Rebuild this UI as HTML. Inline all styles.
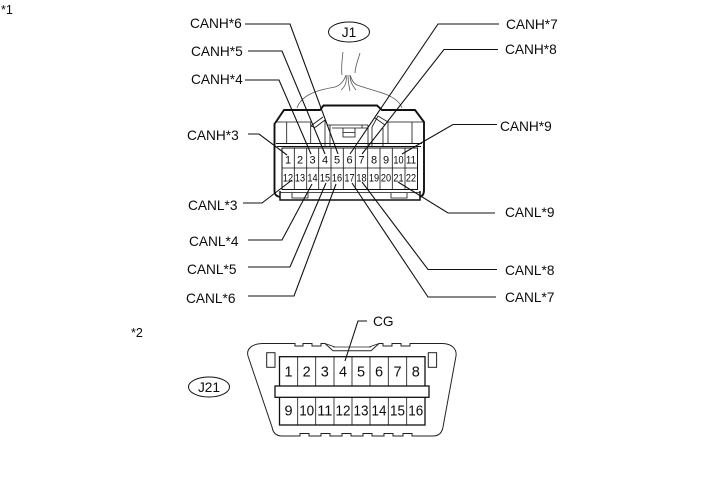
<!DOCTYPE html>
<html>
<head>
<meta charset="utf-8">
<style>
html,body{margin:0;padding:0;background:#fff;}
svg{display:block;}
text{font-family:"Liberation Sans",sans-serif;fill:#0c0c0c;}
.l{font-size:13.7px;}
.p{font-size:11px;text-anchor:middle;}
.q{font-size:14.5px;text-anchor:middle;}
</style>
</head>
<body>
<svg width="713" height="481" viewBox="0 0 713 481" xmlns="http://www.w3.org/2000/svg">
<rect width="713" height="481" fill="#fff"/>
<text class="l" x="1" y="14" style="font-size:12.5px">*1</text>
<text class="l" x="131" y="337" style="font-size:12.5px">*2</text>

<!-- wires -->
<g fill="none" stroke="#555" stroke-width="0.8">
<path d="M343 52C342 60 341 68 342 75M360 53C358 60 355 67 355 73"/>
<path d="M297 108C302 94 318 90 335 87C341 85 344 81 346 75C347 81 346 86 341 90"/>
<path d="M348 75C348 81 349 86 350 91M350 75C350 81 352 85 356 90"/>
<path d="M402 108C397 94 376 92 357 85C353 83 352 80 350 75"/>
</g>

<!-- connector J1 body -->
<g fill="none" stroke="#111">
<path d="M274.500 192V124L284 110H320L323.500 105.500H377L382 110H415L424 122V190Q424 196 419.500 197" stroke-width="1.9"/>
<path d="M274.500 192Q275 196 280 197" stroke-width="1.9"/>
<path d="M280 191V200H420V191" stroke-width="1.5"/>
<g stroke-width="0.8">
<path d="M276 143.500H422M277 146.500H421" stroke-width="1"/>
<path d="M276 122H311M388 122H423"/>
<path d="M286.700 122V143.500M310.700 122V143.500M388 122V143.500M412 122V143.500"/>
<path d="M310.700 126L323 117M315 127.500L325 120M310.700 126L315 127.500"/>
<path d="M325 120V146M330 125V146"/>
<path d="M327 125H368M332 128H368"/>
<path d="M343 128V137H355V128M343 132.500H355"/>
<path d="M362 125V128M368 125V146M372 127V146M383 128V146"/>
<path d="M372 127L378 116L388 122M375 118L385 125"/>
<path d="M280 192.500H420"/>
<path d="M292 193V198H308V193M391 193V198H407V193"/>
</g>
<rect x="282" y="148" width="135.500" height="41.500" stroke-width="1"/>
<path d="M282 168H417.500" stroke-width="0.8"/>
<path d="M294.300 148V189.500M306.700 148V189.500M318.700 148V189.500M331 148V189.500M343.300 148V189.500M355.300 148V189.500M367.700 148V189.500M380 148V189.500M392.300 148V189.500M405 148V189.500" stroke-width="0.8"/>
</g>
<g class="pins">
<text class="p" x="288" y="163.500">1</text><text class="p" x="300" y="163.500">2</text><text class="p" x="312.500" y="163.500">3</text><text class="p" x="325" y="163.500">4</text><text class="p" x="337" y="163.500">5</text><text class="p" x="349.500" y="163.500">6</text><text class="p" x="361.500" y="163.500">7</text><text class="p" x="374" y="163.500">8</text><text class="p" x="386" y="163.500">9</text><text class="p" x="398.500" y="163.500" textLength="10.200" lengthAdjust="spacingAndGlyphs">10</text><text class="p" x="411" y="163.500" textLength="10.200" lengthAdjust="spacingAndGlyphs">11</text>
<text class="p" x="288" y="181.500" textLength="10.200" lengthAdjust="spacingAndGlyphs">12</text><text class="p" x="300" y="181.500" textLength="10.200" lengthAdjust="spacingAndGlyphs">13</text><text class="p" x="312.500" y="181.500" textLength="10.200" lengthAdjust="spacingAndGlyphs">14</text><text class="p" x="325" y="181.500" textLength="10.200" lengthAdjust="spacingAndGlyphs">15</text><text class="p" x="337" y="181.500" textLength="10.200" lengthAdjust="spacingAndGlyphs">16</text><text class="p" x="349.500" y="181.500" textLength="10.200" lengthAdjust="spacingAndGlyphs">17</text><text class="p" x="361.500" y="181.500" textLength="10.200" lengthAdjust="spacingAndGlyphs">18</text><text class="p" x="374" y="181.500" textLength="10.200" lengthAdjust="spacingAndGlyphs">19</text><text class="p" x="386" y="181.500" textLength="10.200" lengthAdjust="spacingAndGlyphs">20</text><text class="p" x="398.500" y="181.500" textLength="10.200" lengthAdjust="spacingAndGlyphs">21</text><text class="p" x="411" y="181.500" textLength="10.200" lengthAdjust="spacingAndGlyphs">22</text>
</g>

<!-- leaders -->
<g fill="none" stroke="#111" stroke-width="1.1">
<polyline points="245,24 290,24 338,154"/>
<polyline points="248,51 282,51 325,154"/>
<polyline points="245,80 279,80 311,154"/>
<polyline points="248,134 259,134 287,155"/>
<polyline points="499,24 438,24 350,154"/>
<polyline points="498,49.500 444,49.500 362,154"/>
<polyline points="497,124.500 453,124.500 402,154"/>
<polyline points="243,203 262,203 292,180"/>
<polyline points="248,240 282,240 312,184"/>
<polyline points="248,267 290,267 326,183"/>
<polyline points="248,296 294,296 336,184"/>
<polyline points="496,297 428,297 352,183"/>
<polyline points="497,269.500 428,269.500 362,182"/>
<polyline points="495,213 448,213 398,182"/>
<polyline points="367,321 358,321 345,361"/>
</g>

<text class="l" x="190" y="28">CANH*6</text>
<text class="l" x="191" y="56">CANH*5</text>
<text class="l" x="191" y="84">CANH*4</text>
<text class="l" x="187" y="140">CANH*3</text>
<text class="l" x="506" y="29">CANH*7</text>
<text class="l" x="505" y="54">CANH*8</text>
<text class="l" x="500" y="131">CANH*9</text>
<text class="l" x="188" y="210">CANL*3</text>
<text class="l" x="189" y="246">CANL*4</text>
<text class="l" x="187" y="274">CANL*5</text>
<text class="l" x="186" y="303">CANL*6</text>
<text class="l" x="505" y="217">CANL*9</text>
<text class="l" x="505" y="275">CANL*8</text>
<text class="l" x="505" y="302">CANL*7</text>
<text class="l" x="373" y="326">CG</text>

<ellipse cx="349" cy="32" rx="20.500" ry="10" fill="#fff" stroke="#111" stroke-width="1"/>
<text class="l" x="349" y="37" text-anchor="middle">J1</text>
<ellipse cx="209" cy="387" rx="20.500" ry="10" fill="#fff" stroke="#111" stroke-width="1"/>
<text class="l" x="209" y="392" text-anchor="middle">J21</text>

<!-- DLC J21 -->
<g fill="none" stroke="#222" stroke-width="1">
<path d="M262 343.500H295V346H303V343.500H312V346H321V343.500H325L333 350.700H371L379 343.500H383V346H392V343.500H401V346H410V343.500H443C452 344 457 349 456 356L443 427C442 433 439 436 433 436H412V433.500H403V436H393V433.500H384V436H372V433.500H363V436H351V433.500H342V436H330V433.500H321V436H309V433.500H300V436H282C276 436 273 433 272 427L248 356C246 349 252 344 262 343.500Z"/>
<path d="M325 343.500L335 347M379 343.500L369 347M333 347H371" stroke-width="0.8"/>
<rect x="266.700" y="352.700" width="8.300" height="14.600"/>
<rect x="428.300" y="352.700" width="8.300" height="14.600"/>
</g>
<g fill="none" stroke="#111">
<rect x="279.500" y="356.700" width="145.500" height="68.300" stroke-width="1.3"/>
<path d="M297.700 356.700V386M315.700 356.700V386M334 356.700V386M352 356.700V386M370 356.700V386M388.300 356.700V386M406.700 356.700V386M297.700 397V425M315.700 397V425M334 397V425M352 397V425M370 397V425M388.300 397V425M406.700 397V425" stroke-width="0.8"/>
<rect x="275" y="386" width="154" height="11.300" fill="#fff" stroke-width="1.3"/>
</g>
<text class="q" x="288.500" y="376.500">1</text><text class="q" x="306.700" y="376.500">2</text><text class="q" x="324.800" y="376.500">3</text><text class="q" x="343" y="376.500">4</text><text class="q" x="361" y="376.500">5</text><text class="q" x="379" y="376.500">6</text><text class="q" x="397.500" y="376.500">7</text><text class="q" x="415.800" y="376.500">8</text>
<text class="q" x="288.500" y="415.500">9</text><text class="q" x="306.700" y="415.500" textLength="15" lengthAdjust="spacingAndGlyphs">10</text><text class="q" x="324.800" y="415.500" textLength="15" lengthAdjust="spacingAndGlyphs">11</text><text class="q" x="343" y="415.500" textLength="15" lengthAdjust="spacingAndGlyphs">12</text><text class="q" x="361" y="415.500" textLength="15" lengthAdjust="spacingAndGlyphs">13</text><text class="q" x="379" y="415.500" textLength="15" lengthAdjust="spacingAndGlyphs">14</text><text class="q" x="397.500" y="415.500" textLength="15" lengthAdjust="spacingAndGlyphs">15</text><text class="q" x="415.800" y="415.500" textLength="15" lengthAdjust="spacingAndGlyphs">16</text>
</svg>
</body>
</html>
